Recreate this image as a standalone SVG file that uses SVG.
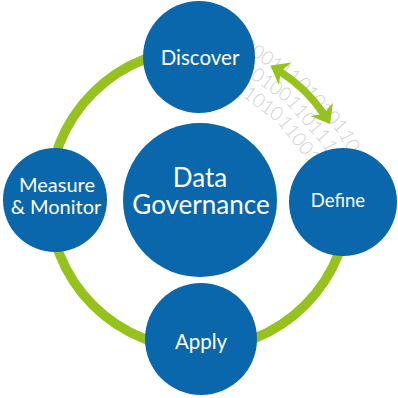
<svg xmlns="http://www.w3.org/2000/svg" width="398" height="398" viewBox="0 0 398 398">
  <style>
    .node { fill: #0b67ab; }
    .lbl { fill: #ffffff; font-family: Lato, "Liberation Sans", sans-serif; text-anchor: middle; }
    .bin { fill: #d0d0d0; font-family: Lato, "Liberation Sans", sans-serif; font-weight: 300; font-size: 19px; }
    .ring { fill: none; stroke: #96c21e; stroke-width: 9.5; }
    .shaft { fill: none; stroke: #96c21e; stroke-width: 7.5; }
    .head { fill: #96c21e; }
  </style>
  <rect width="398" height="398" fill="#ffffff"/>

  <g id="binary">
    <text class="bin" transform="translate(240.6,48.3) rotate(33.5)">000111</text>
    <text class="bin" transform="translate(295.4,84.6) rotate(48.6)">010101</text>
    <text class="bin" transform="translate(338.8,133.9) rotate(62.5)">10110</text>
    <text class="bin" transform="translate(240.8,70.9) rotate(35.3)">10100</text>
    <text class="bin" transform="translate(285.5,102.6) rotate(49)">11011</text>
    <text class="bin" transform="translate(321.5,144.1) rotate(61.4)">1010</text>
    <text class="bin" transform="translate(232.8,89.3) rotate(36.5)">11010</text>
    <text class="bin" transform="translate(276.9,121.9) rotate(51.5)">11001</text>
  </g>

  <g id="connectors">
    <path class="ring" d="M349,199 A150,150 0 1 1 199,49"/>
    <g id="double-arrow">
      <path class="shaft" d="M279,70.9 A151,151 0 0 1 324.2,114.6"/>
      <polygon class="head" points="270.5,65.5 291.5,62.5 280.7,71.2 278.9,85"/>
      <polygon class="head" points="330,124 333,102.8 324.1,113.8 310.5,116"/>
    </g>
  </g>

  <g id="discover">
    <circle class="node" cx="199" cy="57" r="56"/>
    <text class="lbl" x="200" y="65" font-size="20.5">Discover</text>
  </g>
  <g id="measure-monitor">
    <circle class="node" cx="55" cy="200" r="52"/>
    <text class="lbl" x="57" y="191.5" font-size="20">Measure</text>
    <text class="lbl" x="56" y="213.5" font-size="20">&amp; Monitor</text>
  </g>
  <g id="data-governance">
    <circle class="node" cx="200" cy="200" r="77"/>
    <text class="lbl" x="200" y="187" font-size="26">Data</text>
    <text class="lbl" x="201" y="214" font-size="26">Governance</text>
  </g>
  <g id="define">
    <circle class="node" cx="343" cy="202" r="54"/>
    <text class="lbl" x="338" y="206.5" font-size="18.5">Define</text>
  </g>
  <g id="apply">
    <circle class="node" cx="201" cy="339" r="56"/>
    <text class="lbl" x="201" y="349" font-size="20.5">Apply</text>
  </g>
</svg>
